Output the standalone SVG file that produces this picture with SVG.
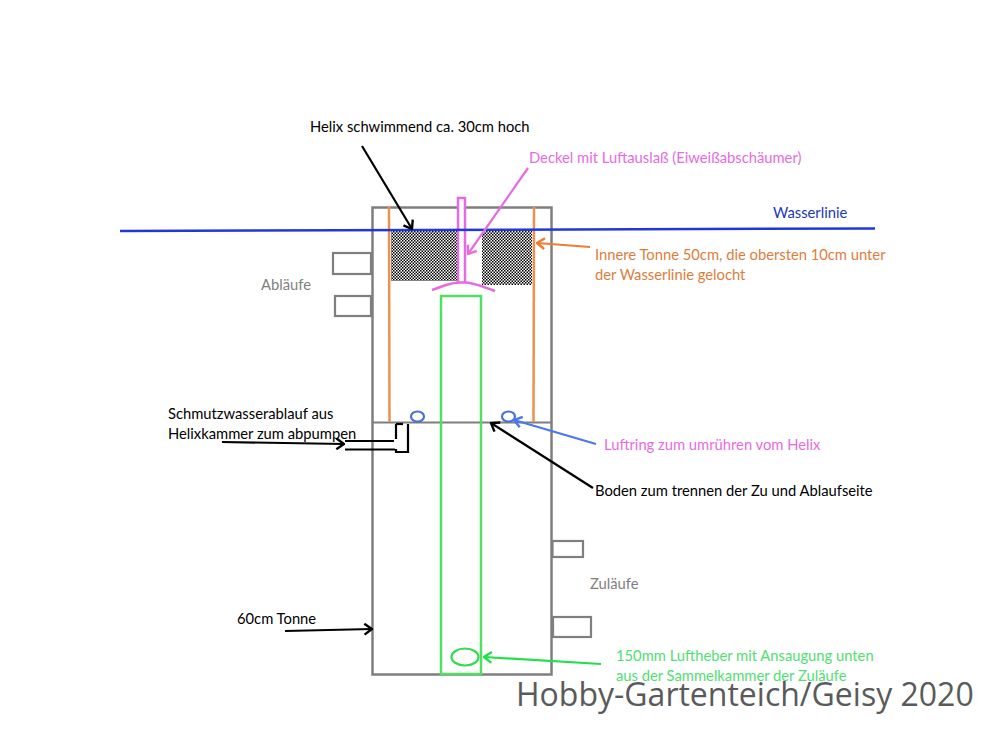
<svg xmlns="http://www.w3.org/2000/svg" width="1000" height="750" viewBox="0 0 1000 750">
<style>
text{font-family:Lato,"Open Sans",sans-serif;font-size:14.750px}
.k{fill:#000}.g{fill:#7f7f7f}.box{fill:#fff;stroke:#7f7f7f;stroke-width:2.200}
.o{fill:#dd7d3c}.v{fill:#e76be0}.gr{fill:#4fe070}
.ln{fill:none}
</style>
<defs>
<pattern id="dots" width="4" height="4" patternUnits="userSpaceOnUse" patternTransform="scale(.75)"><rect width="4" height="4" fill="#fff"/><rect width="2" height="2" fill="#000"/><rect x="2" y="2" width="2" height="2" fill="#000"/></pattern>
<marker id="aK" viewBox="0 0 10 12" refX="9" refY="6" markerWidth="11" markerHeight="13" markerUnits="userSpaceOnUse" orient="auto"><path d="M2 1L9 6L2 11" fill="none" stroke="#000" stroke-width="2.200"/></marker>
<marker id="aO" viewBox="0 0 10 12" refX="9" refY="6" markerWidth="11" markerHeight="13" markerUnits="userSpaceOnUse" orient="auto"><path d="M2 1L9 6L2 11" fill="none" stroke="#ed7d31" stroke-width="2.200"/></marker>
<marker id="aV" viewBox="0 0 10 12" refX="9" refY="6" markerWidth="11" markerHeight="13" markerUnits="userSpaceOnUse" orient="auto"><path d="M2 1L9 6L2 11" fill="none" stroke="#e76be0" stroke-width="2.200"/></marker>
<marker id="aB" viewBox="0 0 10 12" refX="9" refY="6" markerWidth="11" markerHeight="13" markerUnits="userSpaceOnUse" orient="auto"><path d="M2 1L9 6L2 11" fill="none" stroke="#4a78ee" stroke-width="2.200"/></marker>
<marker id="aG" viewBox="0 0 10 12" refX="9" refY="6" markerWidth="11" markerHeight="13" markerUnits="userSpaceOnUse" orient="auto"><path d="M2 1L9 6L2 11" fill="none" stroke="#22e04a" stroke-width="2.200"/></marker>
</defs>
<rect width="1000" height="750" fill="#fff"/>
<g id="tonne"><rect x="372.500" y="207.500" width="179" height="467" fill="#fff" stroke="#7f7f7f" stroke-width="2.500"/><line x1="372" y1="422.500" x2="552" y2="422.500" stroke="#7f7f7f" stroke-width="2.200"/></g>
<g id="ablaeufe"><rect class="box" x="333" y="253" width="38" height="21"/><rect class="box" x="335" y="296" width="36" height="20"/></g>
<g id="zulaeufe"><rect class="box" x="552.500" y="541" width="30.500" height="16"/><rect class="box" x="553" y="617" width="38" height="20"/></g>
<g id="helix"><rect x="391" y="230" width="67" height="51" fill="url(#dots)"/><rect x="482" y="230" width="50" height="55" fill="url(#dots)"/></g>
<g id="innere-tonne"><line x1="389" y1="206" x2="389.500" y2="422" stroke="#ed9050" stroke-width="2.500"/><line x1="534" y1="207" x2="533.500" y2="422" stroke="#ed9050" stroke-width="2.500"/></g>
<g id="deckel"><path d="M458 282V198H465V282" fill="#fff" stroke="#e76be0" stroke-width="2.500"/><path d="M432 290L446 285Q454 282.500 460 282.500H466Q474 283 495 291" fill="none" stroke="#e76be0" stroke-width="2.500"/></g>
<g id="lufttheber"><rect x="441" y="296" width="40" height="378" fill="none" stroke="#4fe060" stroke-width="2.500"/><ellipse cx="465" cy="657" rx="13.500" ry="8.500" fill="none" stroke="#2fdc50" stroke-width="2.200"/></g>
<g id="luftring"><ellipse cx="417.500" cy="416.500" rx="6.500" ry="5" fill="none" stroke="#4a6fd8" stroke-width="2.200"/><ellipse cx="508.500" cy="416.500" rx="6.500" ry="5" fill="none" stroke="#4a6fd8" stroke-width="2.200"/></g>
<g id="schmutzwasserablauf" fill="none" stroke="#000" stroke-width="2.200"><path d="M345 441H394M345 449.500H395"/><path d="M396 424V439M396 449V452H408V424"/><path d="M396 424H403"/></g>
<line id="wasserlinie" x1="120" y1="231" x2="875" y2="228.500" stroke="#2138d8" stroke-width="2.500"/>
<g id="connectors" class="ln" stroke-width="2.200">
<line x1="362" y1="146" x2="412" y2="229" stroke="#000" marker-end="url(#aK)"/>
<line x1="528" y1="168" x2="468" y2="254" stroke="#e76be0" marker-end="url(#aV)"/>
<line x1="590" y1="247" x2="537" y2="243" stroke="#ed7d31" marker-end="url(#aO)"/>
<line x1="222" y1="442" x2="344" y2="444" stroke="#000" marker-end="url(#aK)"/>
<line x1="596" y1="444" x2="514" y2="420" stroke="#4a78ee" marker-end="url(#aB)"/>
<line x1="593" y1="488" x2="491" y2="423" stroke="#000" marker-end="url(#aK)"/>
<line x1="285" y1="631" x2="372" y2="629" stroke="#000" marker-end="url(#aK)"/>
<line x1="601" y1="664" x2="484" y2="657" stroke="#22e04a" marker-end="url(#aG)"/>
</g>
<g id="labels">
<text x="310" y="132" class="k">Helix schwimmend ca. 30cm hoch</text>
<text x="529" y="163" class="v">Deckel mit Luftauslaß (Eiweißabschäumer)</text>
<text x="773" y="218" fill="#2138b8">Wasserlinie</text>
<text x="595" y="260" class="o">Innere Tonne 50cm, die obersten 10cm unter</text>
<text x="595" y="280" class="o">der Wasserlinie gelocht</text>
<text x="261" y="290" class="g">Abläufe</text>
<text x="168" y="419" class="k">Schmutzwasserablauf aus</text>
<text x="168" y="439" class="k">Helixkammer zum abpumpen</text>
<text x="604" y="450" class="v">Luftring zum umrühren vom Helix</text>
<text x="595" y="496" class="k">Boden zum trennen der Zu und Ablaufseite</text>
<text x="590" y="589" class="g">Zuläufe</text>
<text x="237" y="624" class="k">60cm Tonne</text>
<text x="616" y="661" class="gr">150mm Luftheber mit Ansaugung unten</text>
<text x="616" y="681" class="gr">aus der Sammelkammer der Zuläufe</text>
<text x="516" y="706" style="font-family:'Open Sans',sans-serif;font-size:32px" fill="#5a5a5a">Hobby-Gartenteich/Geisy 2020</text>
</g>
</svg>
